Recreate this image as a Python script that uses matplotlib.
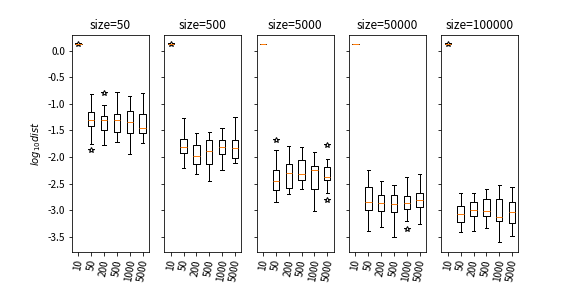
import matplotlib
matplotlib.use('Agg')
import matplotlib.pyplot as plt

plt.rcParams['font.family'] = ['Noto Sans CJK SC', 'DejaVu Sans']
plt.rcParams['axes.unicode_minus'] = False

sizes = [50, 500, 5000, 50000, 100000]
labels = ['10', '50', '200', '500', '1000', '5000']

# 每个box: (whislo, q1, med, q3, whishi)
box_50 = [(0.125, 0.125, 0.125, 0.125, 0.125),
          (-1.75, -1.41, -1.30, -1.15, -0.81),
          (-1.78, -1.49, -1.30, -1.23, -1.02),
          (-1.71, -1.53, -1.31, -1.19, -0.78),
          (-1.94, -1.55, -1.35, -1.13, -0.85),
          (-1.73, -1.55, -1.45, -1.19, -0.80)]
fliers_50 = [[0.12], [-1.86], [-0.79], [], [], []]

box_500 = [(0.13, 0.13, 0.13, 0.13, 0.13),
           (-2.20, -1.93, -1.81, -1.66, -1.26),
           (-2.32, -2.12, -1.98, -1.77, -1.55),
           (-2.45, -2.13, -1.88, -1.68, -1.53),
           (-2.24, -1.94, -1.81, -1.68, -1.45),
           (-2.11, -2.02, -1.83, -1.68, -1.25)]
fliers_500 = [[0.12], [], [], [], [], []]

box_5000 = [(0.125, 0.125, 0.125, 0.125, 0.125),
            (-2.84, -2.62, -2.45, -2.24, -1.87),
            (-2.69, -2.57, -2.30, -2.13, -1.79),
            (-2.60, -2.43, -2.32, -2.05, -1.81),
            (-3.01, -2.59, -2.24, -2.17, -1.90),
            (-2.67, -2.43, -2.37, -2.19, -2.04)]
fliers_5000 = [[], [-1.67], [], [], [], [-1.77, -2.80]]

box_50000 = [(0.125, 0.125, 0.125, 0.125, 0.125),
             (-3.39, -2.99, -2.84, -2.56, -2.24),
             (-3.32, -3.01, -2.86, -2.71, -2.45),
             (-3.50, -3.03, -2.88, -2.71, -2.52),
             (-3.20, -2.97, -2.86, -2.73, -2.37),
             (-3.26, -2.94, -2.80, -2.67, -2.31)]
fliers_50000 = [[], [], [], [], [-3.35], []]

box_100000 = [(0.13, 0.13, 0.13, 0.13, 0.13),
              (-3.41, -3.22, -3.07, -2.92, -2.67),
              (-3.39, -3.11, -2.99, -2.84, -2.67),
              (-3.33, -3.11, -3.01, -2.79, -2.60),
              (-3.59, -3.20, -3.12, -2.79, -2.52),
              (-3.48, -3.24, -3.03, -2.84, -2.56)]
fliers_100000 = [[0.12], [], [], [], [], []]

allBoxes = [box_50, box_500, box_5000, box_50000, box_100000]
allFliers = [fliers_50, fliers_500, fliers_5000, fliers_50000, fliers_100000]

fig, axes = plt.subplots(1, 5, sharey=True, figsize=(8, 4), dpi=72)
fig.subplots_adjust(bottom=0.125)

for ax, size, boxes, fliers in zip(axes, sizes, allBoxes, allFliers):
    stats = []
    for lab, b, f in zip(labels, boxes, fliers):
        stats.append({'label': lab, 'whislo': b[0], 'q1': b[1], 'med': b[2],
                      'q3': b[3], 'whishi': b[4], 'fliers': f})
    ax.bxp(stats, flierprops=dict(marker='*', markerfacecolor='none', markeredgecolor='black'))
    ax.set_title('size=%d' % size)
    ax.tick_params(axis='x', labelrotation=80)

axes[0].set_ylim(-3.78, 0.30)
axes[0].set_ylabel('$log_{10}dist$')

plt.savefig('out.png')
